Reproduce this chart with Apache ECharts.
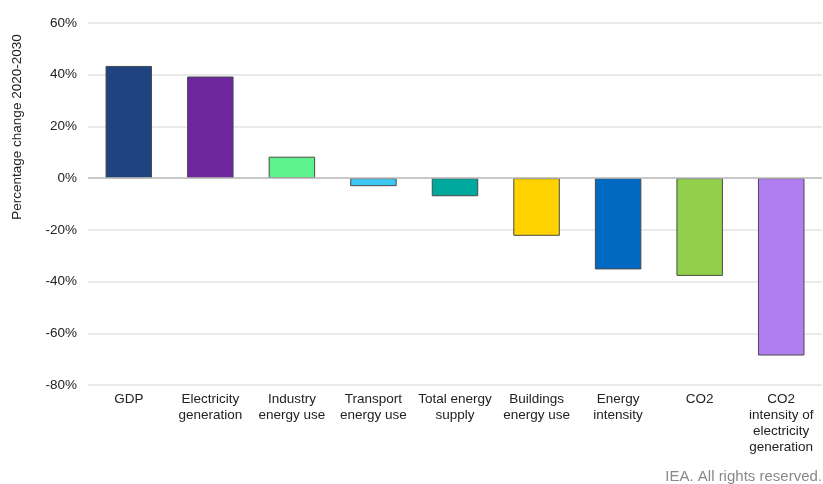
<!DOCTYPE html>
<html>
<head>
<meta charset="utf-8">
<script src="https://cdn.jsdelivr.net/npm/echarts@6/dist/echarts.min.js"></script>
<style>html,body{margin:0;padding:0;background:#fff;}#c{width:823px;height:484px;}</style>
</head>
<body>
<div id="c"></div>
<script>
var categories = ['GDP', 'Electricity\ngeneration', 'Industry\nenergy use', 'Transport\nenergy use', 'Total energy\nsupply', 'Buildings\nenergy use', 'Energy\nintensity', 'CO2', 'CO2\nintensity of\nelectricity\ngeneration'];
var values = [43.4, 39.3, 8.3, -3.1, -7.0, -22.3, -35.3, -37.8, -68.6];
var colors = ['#1f4380', '#6f27a0', '#5ef28c', '#3cc8f2', '#00a99d', '#ffd200', '#006ac2', '#92d04c', '#b07ef0'];
var yTicks = [-80, -60, -40, -20, 0, 20, 40, 60];

var chart = echarts.init(document.getElementById('c'));
chart.setOption({
  animation: false,
  grid: { left: 88, right: 1, top: 23, bottom: 99 },
  xAxis: {
    type: 'category',
    data: categories,
    axisLine: { show: false, onZero: false },
    axisTick: { show: false },
    axisLabel: { color: '#222', fontSize: 13.5, fontFamily: 'Liberation Sans, Arial', lineHeight: 16, margin: 6, interval: 0 }
  },
  yAxis: {
    type: 'value',
    min: yTicks[0], max: yTicks[yTicks.length - 1], interval: 20,
    axisLine: { show: false },
    axisTick: { show: false },
    axisLabel: { formatter: '{value}%', color: '#222', fontSize: 13.5, fontFamily: 'Liberation Sans, Arial', margin: 11 },
    splitLine: { lineStyle: { color: '#e3e3e3', width: 1.5 } }
  },
  graphic: [
    { type: 'text', x: 17, y: 127, rotation: Math.PI / 2,
      style: { text: 'Percentage change 2020-2030', fill: '#222', font: '13.5px Liberation Sans, Arial', align: 'center', verticalAlign: 'middle' } },
    { type: 'text', right: 1, bottom: 0,
      style: { text: 'IEA. All rights reserved.', fill: '#888', font: '15px Liberation Sans, Arial' } }
  ],
  series: [{
    type: 'bar',
    barWidth: '57%',
    data: values.map(function (v, i) {
      return { value: v, itemStyle: { color: colors[i], borderColor: '#4a4a4a', borderWidth: 1 } };
    }),
    markLine: {
      silent: true, symbol: 'none', label: { show: false },
      lineStyle: { color: '#bdbdbd', width: 1.5, type: 'solid' },
      data: [{ yAxis: 0 }]
    }
  }]
});
</script>
</body>
</html>
